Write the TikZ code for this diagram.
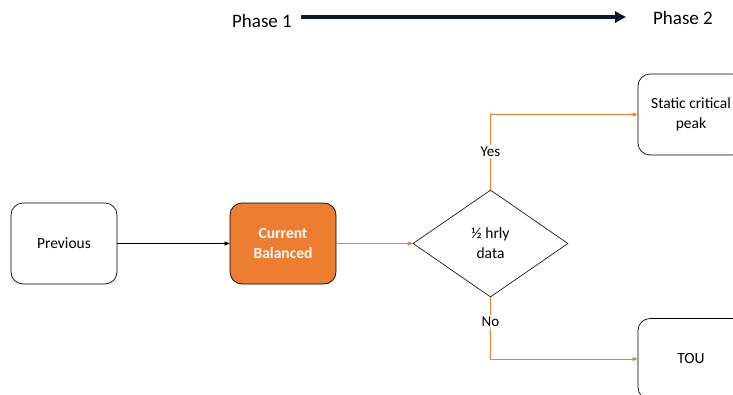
\documentclass[tikz,border=0pt]{standalone}
\usepackage{fontspec}
\setmainfont{Carlito}
\usetikzlibrary{shapes.geometric,arrows.meta}
\definecolor{orng}{HTML}{ED7D31}
\definecolor{navy}{HTML}{0B1A33}
\begin{document}
\begin{tikzpicture}[x=1pt,y=-1pt,
  box/.style={draw=black,rounded corners=12pt,minimum width=106pt,minimum height=81pt,align=center,font=\fontsize{15.5}{20}\selectfont,line width=0.7pt},
  ob/.style={box,fill=orng,text=white,font=\fontsize{15.5}{20}\selectfont\bfseries},
  dec/.style={draw=black,diamond,aspect=1.45,minimum width=155pt,minimum height=107pt,inner sep=0pt,align=center,font=\fontsize{15.5}{20}\selectfont,line width=0.6pt},
  oline/.style={draw=orng,line width=0.7pt},
  otip/.style={oline,-{Triangle[length=5pt,width=4pt]}},
  lbl/.style={fill=white,inner sep=2pt,font=\fontsize{15}{17}\selectfont},
  phase/.style={font=\fontsize{19}{22}\selectfont}]
\useasboundingbox (0,0) rectangle (733,394);
\node[box] (prev) at (64,243.5) {Previous};
\node[ob] (cur) at (283,243.5) {Current\\Balanced};
\node[dec] (dec) at (490.5,243.5) {½ hrly\\data};
\node[box] (scp) at (691,114.5) {Static critical\\peak};
\node[box] (tou) at (691,359) {TOU};
\node[phase] (p1) at (262,21) {Phase 1};
\node[phase] (p2) at (683,18) {Phase 2};
\coordinate (a1) at (301,17);
\coordinate (a2) at (626,17);
\draw[line width=4.5pt,draw=navy,-{Triangle[length=11pt,width=11pt]}] (a1) -- (a2);
\draw[line width=0.5pt,-{Triangle[length=5pt,width=4pt]}] (prev) -- (cur);
\draw[otip] (cur) -- (dec);
\draw[otip] (dec.north) |- (scp.west) node[lbl,pos=0.25] {Yes};
\draw[otip] (dec.south) |- (tou.west) node[lbl,pos=0.2] {No};
\end{tikzpicture}
\end{document}
